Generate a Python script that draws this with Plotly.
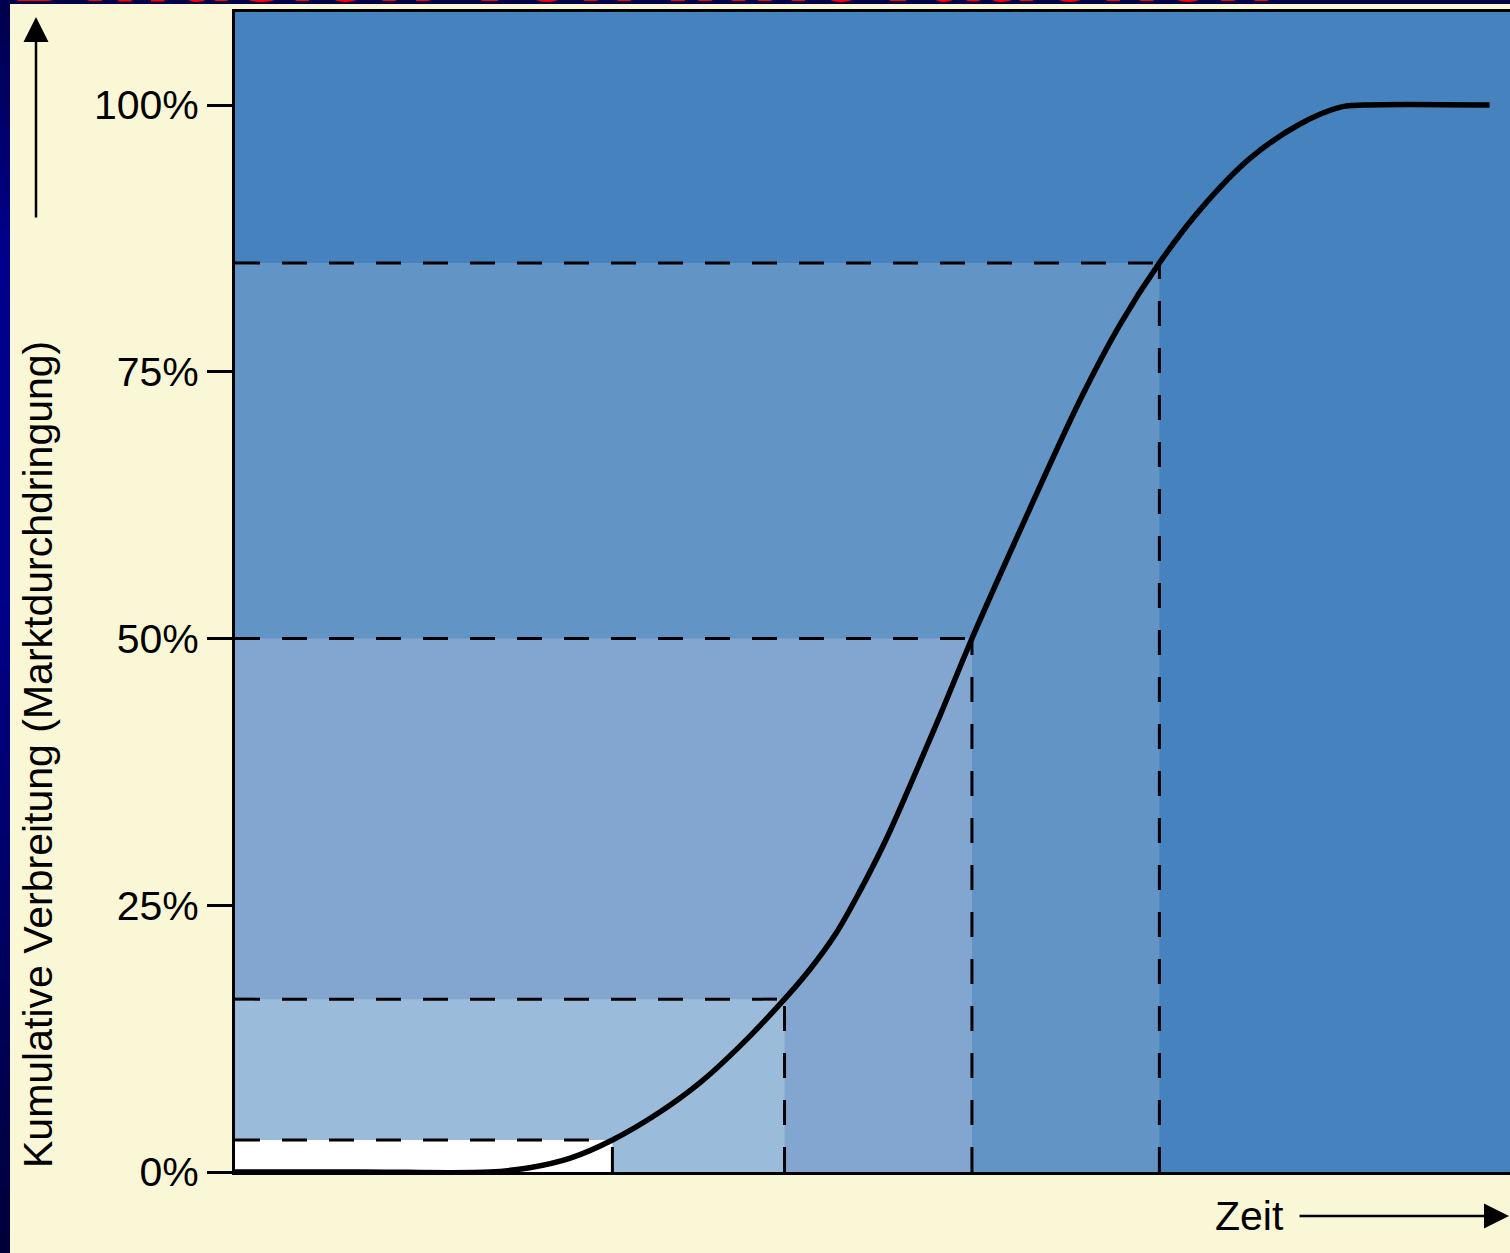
import plotly.graph_objects as go

# S-curve of cumulative adoption (time in arbitrary units, share in %)
zeit = [0, 10, 20, 23.1, 26.3, 29.6, 33.3, 36.5, 39.6, 43.1, 45.1, 47.1, 49.0,
        51.0, 52.9, 55.3, 57.8, 61.6, 66.3, 69.4, 72.5, 75.7, 79.6, 83.5, 86.7,
        88.6, 98.4]
anteil = [0, 0, 0, 0.4, 1.3, 3.0, 5.6, 8.4, 11.8, 16.2, 19.0, 22.3, 26.3,
          31.0, 36.1, 42.8, 50.0, 60.2, 72.4, 79.4, 85.2, 90.2, 95.0, 98.2, 99.8,
          100, 100]

# group boundaries: time at which each cumulative threshold is reached
grenzen_zeit = [29.6, 43.1, 57.8, 72.5]
schwellen = [3.0, 16.2, 50.0, 85.2]
flaechen_farben = ["#FFFFFF", "#9BBBDB", "#82A6CF", "#6294C6"]
hintergrund_blau = "#4682BE"

y_ticks = [0, 25, 50, 75, 100]
y_ticktext = ["0%", "25%", "50%", "75%", "100%"]

creme = "#FAF7D7"
font = "Liberation Sans, Arial, sans-serif"

fig = go.Figure()

# shaded areas, largest first so the smaller ones sit on top
shapes = []
for gz, s, c in sorted(zip(grenzen_zeit, schwellen, flaechen_farben), key=lambda t: -t[0]):
    shapes.append(dict(type="rect", xref="x", yref="y", x0=0, x1=gz, y0=0, y1=s,
                       fillcolor=c, line=dict(width=0), layer="below"))

# navy frame strips along the left and top edges (vertical gradient on the left)
W, H = 1510, 1253
L, T, B, R = 235, 12, 81, 0
pw, ph = W - L - R, H - T - B


def px_x(p):
    return (p - L) / pw


def px_y(p):
    return (H - B - p) / ph


stops = [(0, (0, 0, 0x4A)), (250, (0, 0, 0x8C)), (600, (0, 0, 0x88)),
         (900, (0, 0, 0x66)), (1253, (0, 0, 0x38))]
n = 60
for i in range(n):
    y0 = H * i / n
    y1 = H * (i + 1) / n
    ym = (y0 + y1) / 2
    for (a, ca), (b, cb) in zip(stops[:-1], stops[1:]):
        if a <= ym <= b:
            t = (ym - a) / (b - a)
            col = tuple(round(ca[k] + (cb[k] - ca[k]) * t) for k in range(3))
            break
    shapes.append(dict(type="rect", xref="paper", yref="paper",
                       x0=px_x(0), x1=px_x(10), y0=px_y(y1 + 1), y1=px_y(y0),
                       fillcolor="rgb(%d,%d,%d)" % col, line=dict(width=0), layer="above"))
shapes.append(dict(type="rect", xref="paper", yref="paper",
                   x0=px_x(0), x1=px_x(W), y0=px_y(4), y1=px_y(-2),
                   fillcolor="#000048", line=dict(width=0), layer="below"))

dash_style = dict(color="black", width=3, dash="25px,22px")

# dashed guide lines
for gz, s in zip(grenzen_zeit, schwellen):
    fig.add_trace(go.Scatter(x=[0, gz], y=[s, s], mode="lines", line=dash_style,
                             hoverinfo="skip", showlegend=False))
    fig.add_trace(go.Scatter(x=[gz, gz], y=[0, s], mode="lines", line=dash_style,
                             hoverinfo="skip", showlegend=False))

# adoption curve
fig.add_trace(go.Scatter(x=zeit, y=anteil, mode="lines",
                         line=dict(color="black", width=5.5, shape="spline", smoothing=1.0),
                         cliponaxis=False, hoverinfo="skip", showlegend=False))

annotations = [
    # heading, mostly above the visible page
    dict(text="<b>Diffusion von Innovationen</b>", xref="paper", yref="paper",
         x=px_x(642), y=px_y(23.5), xanchor="center", yanchor="bottom", showarrow=False,
         font=dict(family=font, size=98, color="#FF0000")),
    # y-axis title
    dict(text="Kumulative Verbreitung (Marktdurchdringung)", xref="paper", yref="paper",
         x=px_x(38), y=px_y(755), xanchor="center", yanchor="middle", textangle=-90,
         showarrow=False, font=dict(family=font, size=41, color="black")),
    # upward arrow
    dict(text="", xref="paper", yref="paper", x=px_x(36), y=px_y(17),
         ax=0, ay=202, showarrow=True, arrowhead=2, arrowsize=2, arrowwidth=2.5,
         arrowcolor="black", standoff=0, startstandoff=0),
    # time label and arrow
    dict(text="Zeit", xref="paper", yref="paper", x=px_x(1249), y=px_y(1216),
         xanchor="center", yanchor="middle", showarrow=False,
         font=dict(family=font, size=41, color="black")),
    dict(text="", xref="paper", yref="paper", x=px_x(1509), y=px_y(1216),
         ax=-211, ay=0, showarrow=True, arrowhead=2, arrowsize=2, arrowwidth=2.5,
         arrowcolor="black", standoff=0, startstandoff=0),
]

fig.update_layout(
    width=W, height=H, autosize=False,
    margin=dict(l=L, r=R, t=T, b=B, pad=0),
    paper_bgcolor=creme, plot_bgcolor=hintergrund_blau,
    font=dict(family=font, size=41, color="black"),
    shapes=shapes, annotations=annotations,
    xaxis=dict(range=[0, 100], showticklabels=False, ticks="", showgrid=False,
               zeroline=False, showline=True, linecolor="black", linewidth=3, mirror=True),
    yaxis=dict(range=[0, 108.72], tickvals=y_ticks, ticktext=y_ticktext,
               ticks="outside", ticklen=25, tickwidth=2.5, tickcolor="black",
               ticklabelstandoff=0, showgrid=False, zeroline=False,
               showline=True, linecolor="black", linewidth=3,
               tickfont=dict(family=font, size=41, color="black")),
)

fig.write_html("out.html")
